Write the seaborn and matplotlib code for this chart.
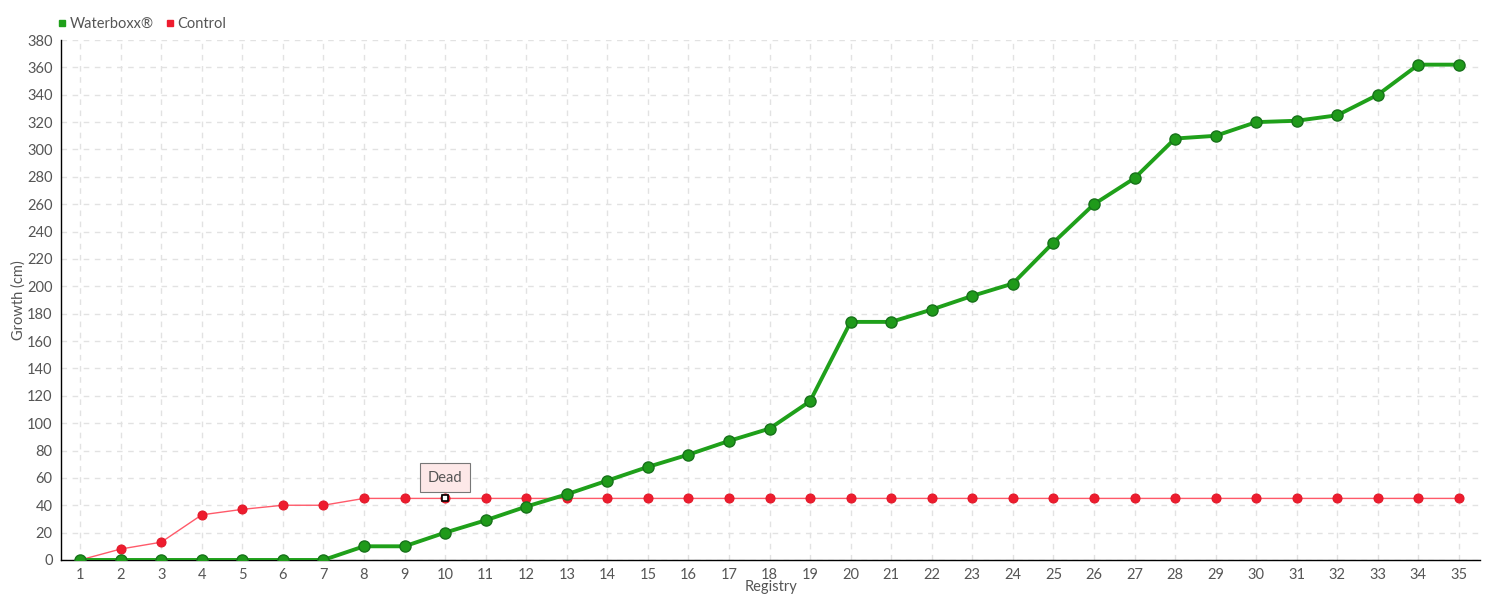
import matplotlib

matplotlib.use("Agg")
import matplotlib.pyplot as plt
import pandas as pd
import seaborn as sns
from matplotlib.lines import Line2D

registry = list(range(1, 36))
waterboxx = [0, 0, 0, 0, 0, 0, 0, 10, 10, 20, 29, 39, 48, 58, 68, 77, 87, 96, 116, 174,
             174, 183, 193, 202, 232, 260, 279, 308, 310, 320, 321, 325, 340, 362, 362]
control = [0, 8, 13, 33, 37, 40, 40, 45, 45, 45, 45, 45, 45, 45, 45, 45, 45, 45, 45, 45,
           45, 45, 45, 45, 45, 45, 45, 45, 45, 45, 45, 45, 45, 45, 45]
series_names = ["Waterboxx®", "Control"]
dead_at = 10

sns.set_style("white")
plt.rcParams["font.family"] = ["Lato", "DejaVu Sans"]
text_color = "#555555"

df = pd.DataFrame({"Registry": registry, series_names[0]: waterboxx, series_names[1]: control})

fig = plt.figure(figsize=(15, 6), dpi=100)
ax = fig.add_axes([0.0407, 0.0667, 0.946, 0.8666])

sns.lineplot(data=df, x="Registry", y=series_names[1], ax=ax, color="#ff5a6a", linewidth=1.0,
             marker="o", markersize=6.5, markerfacecolor="#ee1c2e", markeredgecolor="#e01828",
             zorder=3)
sns.lineplot(data=df, x="Registry", y=series_names[0], ax=ax, color="#1fa01a", linewidth=2.8,
             marker="o", markersize=8, markerfacecolor="#1f9a1a", markeredgecolor="#17721a",
             markeredgewidth=1.0, zorder=4)

# "Dead" marker and tooltip
ax.plot([dead_at], [control[dead_at - 1]], marker="s", markersize=4, markerfacecolor="white",
        markeredgecolor="black", markeredgewidth=1.2, zorder=6)
ax.annotate("Dead", xy=(dead_at, control[dead_at - 1]), xytext=(0, 15), textcoords="offset points",
            ha="center", va="center", fontsize=10.5, color=text_color, zorder=7,
            bbox=dict(boxstyle="square,pad=0.5", fc="#fde8e8", ec="#777777", lw=0.8))

ax.set_xlim(0.53, 35.52)
ax.set_ylim(0, 380)
ax.set_xticks(registry)
ax.set_yticks(range(0, 381, 20))
ax.grid(True, color="#e2e2e2", linestyle=(0, (4, 4)), linewidth=1)
ax.set_axisbelow(True)
for s in ["top", "right"]:
    ax.spines[s].set_visible(False)
for s in ["left", "bottom"]:
    ax.spines[s].set_color("black")
    ax.spines[s].set_linewidth(1)
ax.tick_params(axis="both", which="both", direction="out", length=4, width=1, color="black",
               labelsize=10.5, labelcolor=text_color, pad=2)
ax.set_xlabel("Registry", fontsize=10.5, color=text_color, labelpad=-2)
ax.set_ylabel("Growth (cm)", fontsize=10.5, color=text_color, labelpad=1)

handles = [Line2D([], [], linestyle="none", marker="s", markersize=5, color="#1fa01a"),
           Line2D([], [], linestyle="none", marker="s", markersize=5, color="#ee1c2e")]
fig.legend(handles, series_names, loc="upper left", bbox_to_anchor=(0.028, 0.993), ncol=2,
           frameon=False, fontsize=10.5, handletextpad=0.0, columnspacing=0.6,
           labelcolor=text_color, handlelength=1.0)

fig.savefig("out.png", dpi=100)
